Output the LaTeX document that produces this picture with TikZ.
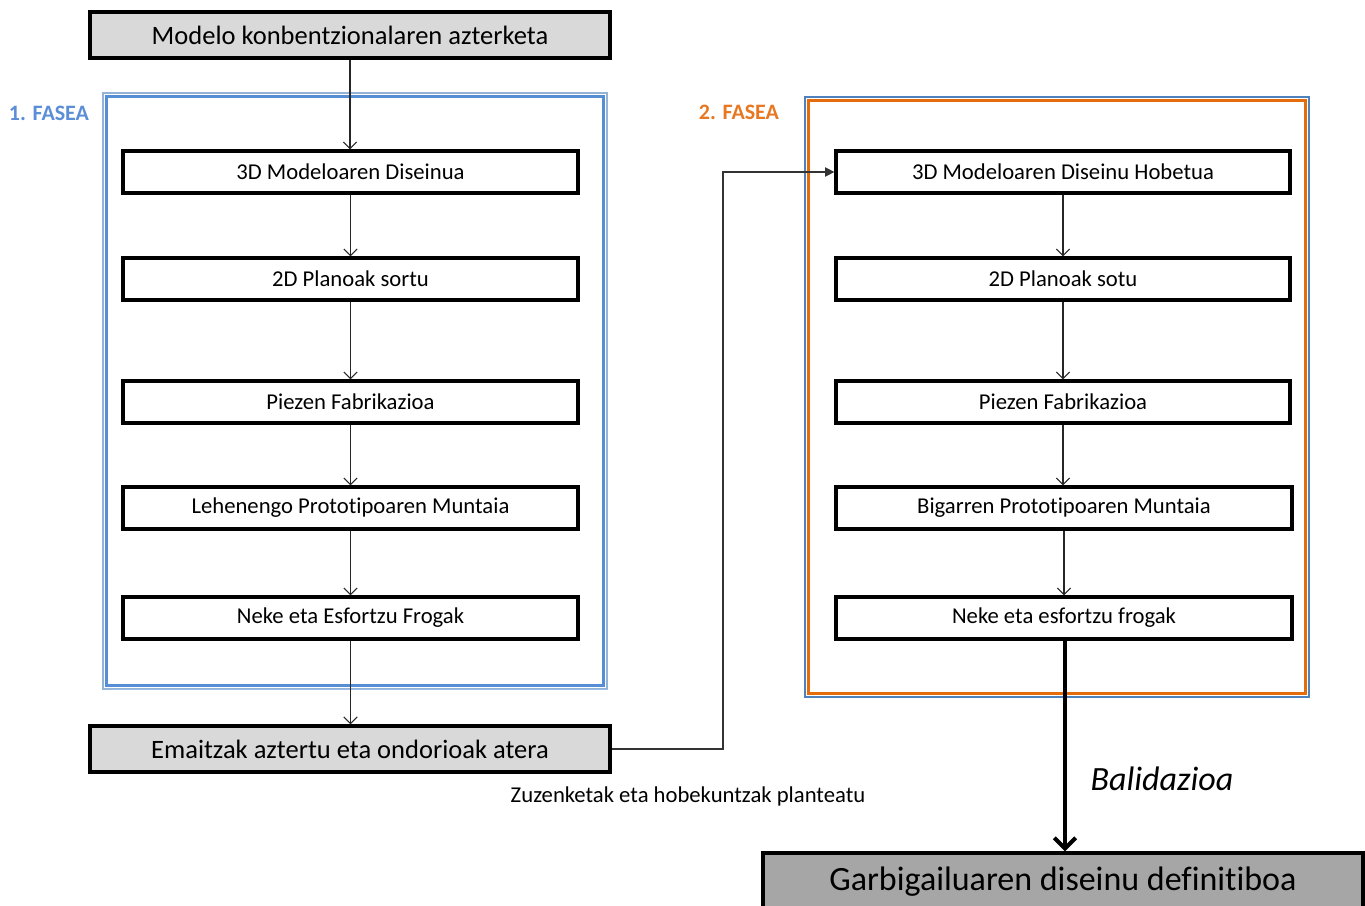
\documentclass[tikz,border=0pt]{standalone}
\usepackage{fontspec}
\setmainfont{Carlito}[Ligatures=NoCommon]
\usetikzlibrary{arrows.meta}
\definecolor{lgray}{HTML}{D9D9D9}
\definecolor{dgray}{HTML}{A6A6A6}
\definecolor{lblue}{HTML}{95B3D7}
\definecolor{mblue}{HTML}{558ED5}
\definecolor{fblue}{HTML}{4F81BD}
\definecolor{orng}{HTML}{E46C0A}
\definecolor{flab}{HTML}{5B8ED6}
\definecolor{olab}{HTML}{E87722}
\tikzset{
  colbox/.style={draw=black, line width=2.4pt, fill=white, inner sep=0pt,
    minimum height=42*0.75pt, font=\fontsize{17}{20}\selectfont},
  graybox/.style={draw=black, line width=2.6pt, fill=lgray, inner sep=0pt,
    minimum width=520*0.75pt, minimum height=46*0.75pt, font=\fontsize{19.9}{23}\selectfont},
  thinarr/.style={draw=black!85, line width=0.8pt, -{Straight Barb[length=5pt,width=10pt]}},
  conn/.style={draw=black!80, line width=0.8pt, -{Triangle[length=7pt,width=7pt]}},
  thickarr/.style={draw=black, line width=3pt, -{Straight Barb[length=8pt,width=16pt,line width=3pt]}},
}
\begin{document}
\begin{tikzpicture}[x=0.75pt,y=-0.75pt]
\useasboundingbox (0,0) rectangle (1365,906);
% phase frames
\draw[lblue, line width=1.8pt] (103,93) rectangle (607,689);
\draw[mblue, line width=2.6pt] (106.5,96.5) rectangle (603.5,685.5);
\draw[mblue!60, line width=1.2pt] (105,689.5) -- (608,689.5);
\draw[fblue, line width=1.2pt] (805,97) rectangle (1309,697);
\draw[orng, line width=2.8pt] (808.5,100.5) rectangle (1305.5,693.5);
\node[font=\bfseries\fontsize{16.5}{19}\selectfont, text=flab] (f1) at (49,113) {1. FASEA};
\node[font=\bfseries\fontsize{16.5}{19}\selectfont, text=olab] (f2) at (739,112) {2. FASEA};
% left column
\node[graybox] (top) at (350,35) {Modelo konbentzionalaren azterketa};
\node[colbox, minimum width=455*0.75pt] (l1) at (350.5,172) {3D Modeloaren Diseinua};
\node[colbox, minimum width=455*0.75pt] (l2) at (350.5,279) {2D Planoak sortu};
\node[colbox, minimum width=455*0.75pt] (l3) at (350.5,402) {Piezen Fabrikazioa};
\node[colbox, minimum width=455*0.75pt] (l4) at (350.5,508) {Lehenengo Prototipoaren Muntaia};
\node[colbox, minimum width=455*0.75pt] (l5) at (350.5,618) {Neke eta Esfortzu Frogak};
\node[graybox] (em) at (350,749) {Emaitzak aztertu eta ondorioak atera};
% right column
\node[colbox, minimum width=454*0.75pt] (r1) at (1063,172) {3D Modeloaren Diseinu Hobetua};
\node[colbox, minimum width=454*0.75pt] (r2) at (1063,279) {2D Planoak sotu};
\node[colbox, minimum width=454*0.75pt] (r3) at (1063,402) {Piezen Fabrikazioa};
\node[colbox, minimum width=456*0.75pt] (r4) at (1064,508) {Bigarren Prototipoaren Muntaia};
\node[colbox, minimum width=456*0.75pt] (r5) at (1064,618) {Neke eta esfortzu frogak};
\node[draw=black, line width=2.6pt, fill=dgray, inner sep=0pt, minimum width=600*0.75pt,
  minimum height=58*0.75pt, font=\fontsize{25.5}{29}\selectfont] (gar) at (1063,882) {Garbigailuaren diseinu definitiboa};
% arrows left
\draw[thinarr] (top.south) -- (top.south |- l1.north);
\draw[thinarr] (l1.south) -- (l2.north);
\draw[thinarr] (l2.south) -- (l3.north);
\draw[thinarr] (l3.south) -- (l4.north);
\draw[thinarr] (l4.south) -- (l5.north);
\draw[thinarr] (l5.south) -- (l5.south |- em.north);
% arrows right
\draw[thinarr] (r1.south) -- (r2.north);
\draw[thinarr] (r2.south) -- (r3.north);
\draw[thinarr] (r3.south) -- (r3.south |- r4.north);
\draw[thinarr] (r4.south) -- (r5.north);
% connector
\coordinate (bend) at (723,460);
\draw[conn] (em.east) -| (bend) |- (r1.west);
\node[font=\fontsize{17}{20}\selectfont] (lbl) at (688,796) {Zuzenketak eta hobekuntzak planteatu};
% validation
\coordinate (vs) at (1065,639);
\draw[thickarr] (vs) -- (vs |- gar.north);
\node[font=\itshape\fontsize{25.5}{29}\selectfont] (bal) at (1162,779) {Balidazioa};
\end{tikzpicture}
\end{document}
